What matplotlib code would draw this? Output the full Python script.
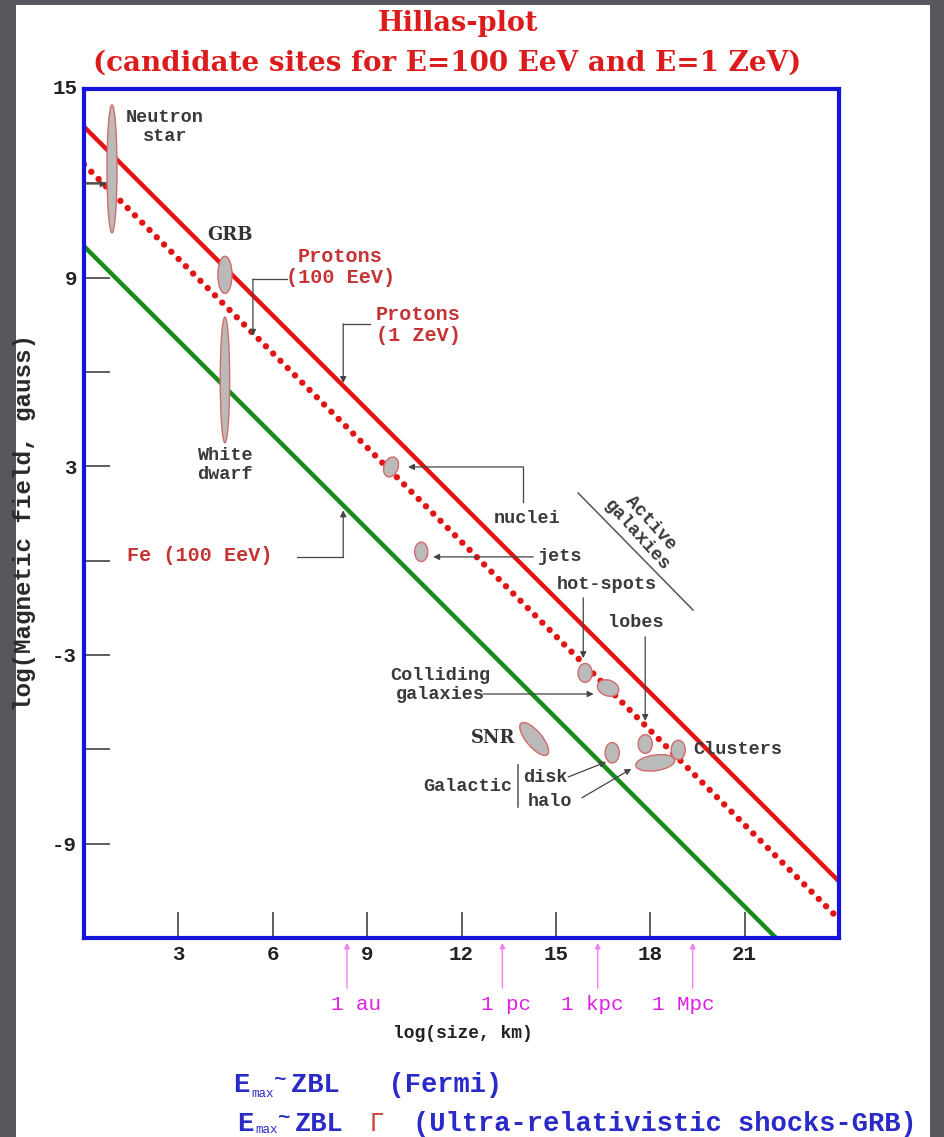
import matplotlib.pyplot as plt
from matplotlib.patches import Ellipse, Rectangle
import numpy as np

# Hillas plot: log B (gauss) vs log size (km)

# limit lines: log B = intercept - log size
line_names = ["Protons (100 EeV)", "Protons (1 ZeV)", "Fe (100 EeV)"]
line_intercepts = [13.8, 12.6, 10.0]

# candidate sites (x, y, width, height, angle) in data units
site_names = ["Neutron star", "GRB", "White dwarf", "nuclei", "jets",
              "hot-spots", "colliding", "SNR", "disk", "lobes", "clusters", "halo"]
site_x = [0.89, 4.48, 4.48, 9.76, 10.72, 15.93, 16.66, 14.31, 16.79, 17.84, 18.89, 18.16]
site_y = [12.46, 9.09, 5.75, 2.98, 0.28, -3.57, -4.05, -5.67, -6.11, -5.83, -6.02, -6.43]
site_w = [0.32, 0.45, 0.30, 0.45, 0.42, 0.45, 0.70, 1.30, 0.45, 0.45, 0.45, 1.25]
site_h = [4.07, 1.18, 4.00, 0.65, 0.62, 0.60, 0.50, 0.50, 0.65, 0.60, 0.62, 0.50]
site_ang = [0, 0, 0, -20, 0, 0, -20, -50, 0, 0, 0, 8]

# distance marks on the size axis
dist_labels = ["1 au", "1 pc", "1 kpc", "1 Mpc"]
dist_x = [8.36, 13.3, 16.33, 19.35]
dist_label_x = [8.65, 13.4, 16.15, 19.05]

xticks = [3, 6, 9, 12, 15, 18, 21]
yticks = [12, 9, 6, 3, 0, -3, -6, -9]
ytick_labels = ["", "9", "", "3", "", "-3", "", "-9"]

W, H = 944, 1137
fig = plt.figure(figsize=(W / 100, H / 100), dpi=100)
fig.patch.set_facecolor("#58575d")
bg = fig.add_axes([16 / W, 0, (930 - 16) / W, (H - 5) / H], zorder=-10)
bg.axis("off")
bg.add_patch(Rectangle((0, 0), 1, 1, transform=bg.transAxes,
                       facecolor="white", edgecolor="none"))

ax = fig.add_axes([84 / W, (H - 938) / H, 755 / W, 849 / H])
ax.set_xlim(0, 24)
ax.set_ylim(-12, 15)
ax.set_facecolor("white")
for s in ax.spines.values():
    s.set_color("#1414dc")
    s.set_linewidth(3)

mono = "Liberation Mono"
serif = "DejaVu Serif"
red_txt = "#c43434"
gray = "#444444"

ax.set_xticks(xticks)
ax.set_yticks(yticks)
ax.set_yticklabels(ytick_labels)
ax.tick_params(direction="in", length=19, width=1.1, color="#333333",
               labelsize=15, pad=5)
for lab in ax.get_xticklabels() + ax.get_yticklabels():
    lab.set_family(mono)
    lab.set_weight("bold")
    lab.set_color("#222222")
# top label "15" at the corner
ax.text(-0.2, 15, "15", ha="right", va="center", family=mono, weight="bold",
        fontsize=15, color="#222222", clip_on=False)

xs = np.array([0, 24])
ax.plot(xs, line_intercepts[0] - xs, color="#e41414", lw=3.2, solid_capstyle="butt")
ax.plot(xs, line_intercepts[1] - xs, color="#e41414", lw=4.6,
        linestyle=(0, (0.01, 1.6)), dash_capstyle="round")
ax.plot(xs, line_intercepts[2] - xs, color="#1a8a1a", lw=3.2)

for x, y, w, h, a in zip(site_x, site_y, site_w, site_h, site_ang):
    ax.add_patch(Ellipse((x, y), w, h, angle=a, facecolor="#bababa",
                         edgecolor="#d46a6a", lw=1.0, zorder=4))

tk = dict(family=mono, weight="bold", fontsize=13.3, color="#3a3a3a",
          ha="center", va="center", linespacing=1.1, zorder=5)
rk = dict(tk, color=red_txt, fontsize=14.5)
sk = dict(family=serif, weight="bold", fontsize=13, color="#333333",
          ha="center", va="center", zorder=5)

ax.text(2.58, 13.79, "Neutron\nstar", **tk)
ax.text(4.64, 10.36, "GRB", **sk)
ax.text(4.48, 3.04, "White\ndwarf", **tk)
ax.text(8.15, 9.34, "Protons\n(100 EeV)", **rk)
ax.text(10.62, 7.5, "Protons\n(1 ZeV)", **rk)
ax.text(3.69, 0.18, "Fe (100 EeV)", **rk)
ax.text(14.09, 1.33, "nuclei", **tk)
ax.text(15.15, 0.12, "jets", **tk)
ax.text(16.63, -0.77, "hot-spots", **tk)
ax.text(17.55, -1.98, "lobes", **tk)
ax.text(11.32, -3.95, "Colliding\ngalaxies", **tk)
ax.text(13.0, -5.64, "SNR", **sk)
ax.text(19.36, -6.02, "Clusters", **dict(tk, ha="left"))
ax.text(12.21, -7.19, "Galactic", **tk)
ax.text(14.66, -6.9, "disk", **tk)
ax.text(14.82, -7.67, "halo", **tk)
ax.text(17.8, 1.0, "Active\ngalaxies", rotation=-48, rotation_mode="anchor", **tk)
ax.plot([15.71, 19.36], [2.15, -1.57], color="#555555", lw=1.1)
ax.plot([13.8, 13.8], [-6.5, -7.83], color="#555555", lw=1.1)

ap = dict(arrowstyle="-|>", color=gray, lw=0.9, mutation_scale=9,
          shrinkA=0, shrinkB=0)


def elbow(points):
    pts = np.array(points)
    ax.plot(pts[:-1, 0], pts[:-1, 1], color=gray, lw=0.9, zorder=3)
    ax.annotate("", xy=pts[-1], xytext=pts[-2], arrowprops=ap, zorder=3)


elbow([(6.45, 8.96), (5.37, 8.96), (5.37, 7.15)])
elbow([(9.1, 7.53), (8.24, 7.53), (8.24, 5.65)])
elbow([(6.77, 0.12), (8.24, 0.12), (8.24, 1.6)])
elbow([(13.96, 1.86), (13.96, 2.98), (10.3, 2.98)])
elbow([(14.28, 0.12), (11.1, 0.12)])
elbow([(15.87, -1.18), (15.87, -3.1)])
elbow([(17.84, -2.42), (17.84, -5.1)])
elbow([(12.69, -4.24), (16.2, -4.24)])
elbow([(15.39, -6.88), (16.6, -6.4)])
elbow([(15.83, -7.54), (17.4, -6.62)])
elbow([(0.0, 11.98), (0.72, 11.98)])

# distance marks below the axis
for dx, lx, lab in zip(dist_x, dist_label_x, dist_labels):
    ax.annotate("", xy=(dx, -12.15), xytext=(dx, -13.6), annotation_clip=False,
                arrowprops=dict(arrowstyle="-|>", color="#f080f0", lw=1.0,
                                mutation_scale=8, shrinkA=0, shrinkB=0))
    ax.text(lx, -14.1, lab, ha="center", va="center", family=mono,
            fontsize=15, color="#e020e0", clip_on=False)

ax.text(12.05, -15.05, "log(size, km)", ha="center", va="center", family=mono,
        weight="bold", fontsize=13, color="#222222", clip_on=False)
fig.text(25 / W, 1 - 523 / H, "log(Magnetic field, gauss)", rotation=90,
         ha="center", va="center", family=mono, weight="bold", fontsize=17.5,
         color="#2a2a2a")

# titles
fig.text(458 / W, 1 - 31 / H, "Hillas-plot", ha="center", va="baseline",
         family=serif, weight="bold", fontsize=19.5, color="#dc1c1c")
fig.text(447 / W, 1 - 71 / H, "(candidate sites for E=100 EeV and E=1 ZeV)",
         ha="center", va="baseline", family=serif, weight="bold", fontsize=20,
         color="#dc1c1c")

# formulas
blue = "#2a2ac8"
fk = dict(family=mono, weight="bold", fontsize=19.5, color=blue, va="center")
sub = dict(family=mono, fontsize=9, color=blue, va="center", ha="left")
fig.text(233 / W, 1 - 1085 / H, "E", ha="left", **fk)
fig.text(251 / W, 1 - 1094 / H, "max", **sub)
fig.text(274 / W, 1 - 1080 / H, "~", ha="left", **dict(fk, fontsize=15))
fig.text(291 / W, 1 - 1085 / H, "ZBL   (Fermi)", ha="left", **fk)
fig.text(237 / W, 1 - 1124 / H, "E", ha="left", **fk)
fig.text(255 / W, 1 - 1130 / H, "max", **sub)
fig.text(278 / W, 1 - 1118 / H, "~", ha="left", **dict(fk, fontsize=15))
fig.text(295 / W, 1 - 1124 / H, "ZBL", ha="left", **fk)
fig.text(370 / W, 1 - 1124 / H, "Γ", ha="left", family="DejaVu Sans",
         fontsize=17, color="#d04040", va="center")
fig.text(413 / W, 1 - 1124 / H, "(Ultra-relativistic shocks-GRB)", ha="left", **fk)

fig.savefig("out.png", dpi=100, facecolor=fig.get_facecolor())
